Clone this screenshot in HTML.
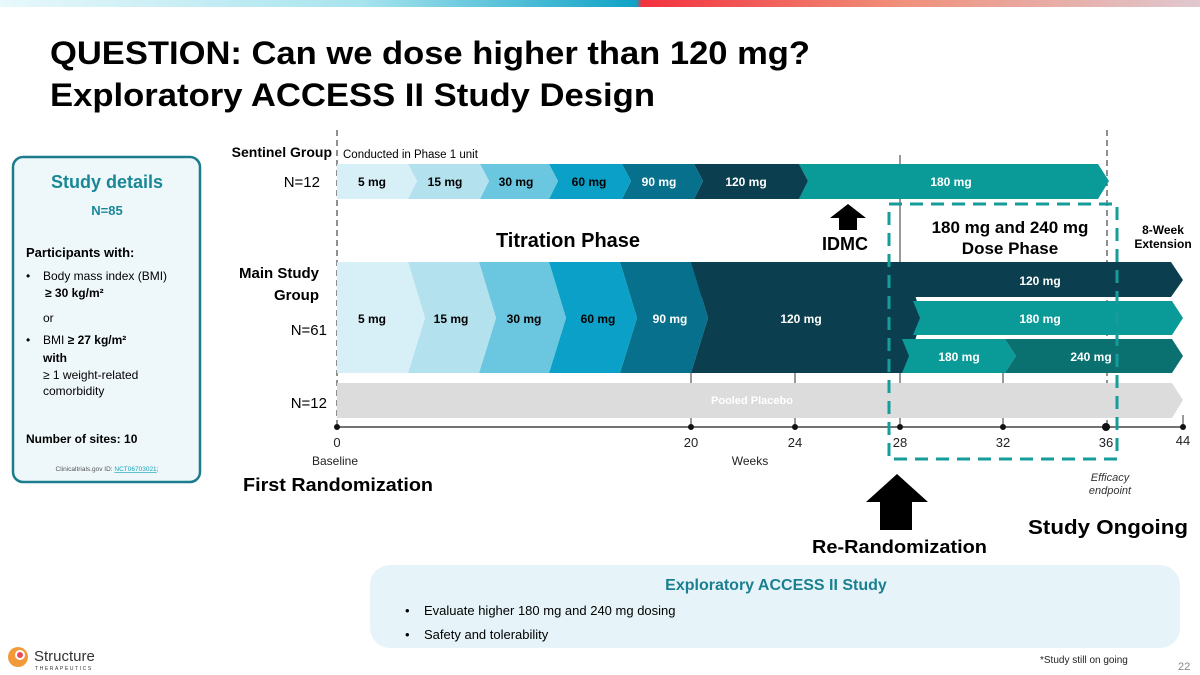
<!DOCTYPE html>
<html><head><meta charset="utf-8"><style>
body{margin:0;background:#fff;}
svg{display:block;font-family:"Liberation Sans",Arial,sans-serif;}
</style></head><body>
<svg width="1200" height="675" viewBox="0 0 1200 675" xmlns="http://www.w3.org/2000/svg">
<defs>
<linearGradient id="tb" x1="0" x2="1" y1="0" y2="0">
<stop offset="0" stop-color="#e8f8fb"/><stop offset="0.3" stop-color="#a8e4ee"/><stop offset="0.53" stop-color="#0fa2c6"/>
<stop offset="0.535" stop-color="#f2323e"/><stop offset="0.75" stop-color="#f0907a"/><stop offset="1" stop-color="#e0c8d0"/>
</linearGradient>
</defs>
<rect x="0" y="0" width="1200" height="7" fill="url(#tb)"/>
<text x="50" y="64" font-size="32" font-weight="bold" textLength="760" lengthAdjust="spacingAndGlyphs">QUESTION: Can we dose higher than 120 mg?</text>
<text x="50" y="106" font-size="32" font-weight="bold" textLength="605" lengthAdjust="spacingAndGlyphs">Exploratory ACCESS II Study Design</text>

<rect x="13" y="157" width="187" height="325" rx="10" fill="#eef8fb" stroke="#1b7c8c" stroke-width="2.5"/>
<text x="107" y="188" font-size="18" font-weight="bold" fill="#1a8797" text-anchor="middle">Study details</text>
<text x="107" y="215" font-size="13" font-weight="bold" fill="#1a8797" text-anchor="middle">N=85</text>
<text x="26" y="257" font-size="13" font-weight="bold">Participants with:</text>
<g font-size="12">
<text x="26" y="280">•</text><text x="43" y="280">Body mass index (BMI)</text>
<text x="45" y="297" font-weight="bold">≥ 30 kg/m²</text>
<text x="43" y="322">or</text>
<text x="26" y="344">•</text><text x="43" y="344">BMI <tspan font-weight="bold">≥ 27 kg/m²</tspan></text>
<text x="43" y="362" font-weight="bold">with</text>
<text x="43" y="379">≥ 1 weight-related</text>
<text x="43" y="395">comorbidity</text>
</g>
<text x="26" y="443" font-size="12" font-weight="bold">Number of sites: 10</text>
<text x="107" y="471" font-size="6.5" fill="#555" text-anchor="middle">Clinicaltrials.gov ID: <tspan fill="#19a3b8" text-decoration="underline">NCT06703021</tspan>;</text>

<g stroke="#222" stroke-width="1" stroke-dasharray="6,4">
<line x1="337" y1="130" x2="337" y2="427"/>
<line x1="1107" y1="130" x2="1107" y2="427"/>
</g>
<g stroke="#333" stroke-width="1">
<line x1="900" y1="155" x2="900" y2="427"/>
<line x1="691" y1="373" x2="691" y2="427"/>
<line x1="795" y1="373" x2="795" y2="427"/>
<line x1="1003" y1="373" x2="1003" y2="427"/>
<line x1="1183" y1="415" x2="1183" y2="427"/>
</g>

<g>
<polygon points="799,164 1098,164 1109,181 1098,199 799,199 808,181" fill="#0a9a98"/>
<polygon points="694,164 799,164 808,181 799,199 694,199 703,181" fill="#0b3f4f"/>
<polygon points="622,164 694,164 703,181 694,199 622,199 631,181" fill="#07708c"/>
<polygon points="549,164 622,164 631,181 622,199 549,199 558,181" fill="#0aa0c8"/>
<polygon points="480,164 549,164 558,181 549,199 480,199 489,181" fill="#6bc6df"/>
<polygon points="408,164 480,164 489,181 480,199 408,199 417,181" fill="#b3e1ee"/>
<polygon points="337,164 408,164 417,181 408,199 337,199" fill="#d7eff7"/>
</g>
<g font-size="12" font-weight="bold" text-anchor="middle">
<text x="372" y="186">5 mg</text><text x="445" y="186">15 mg</text><text x="516" y="186">30 mg</text>
<text x="589" y="186" >60 mg</text><text x="659" y="186" fill="#fff">90 mg</text><text x="746" y="186" fill="#fff">120 mg</text>
<text x="951" y="186" fill="#fff">180 mg</text>
</g>

<polygon points="691,262 1171,262 1183,280 1171,297 691,297" fill="#0b3f4f"/>
<polygon points="691,262 905,262 922,318 905,373 691,373 708,318" fill="#0b3f4f"/>
<polygon points="620,262 691,262 708,318 691,373 620,373 637,318" fill="#07708c"/>
<polygon points="549,262 620,262 637,318 620,373 549,373 566,318" fill="#0aa0c8"/>
<polygon points="479,262 549,262 566,318 549,373 479,373 496,318" fill="#6bc6df"/>
<polygon points="408,262 479,262 496,318 479,373 408,373 425,318" fill="#b3e1ee"/>
<polygon points="337,262 408,262 425,318 408,373 337,373" fill="#d7eff7"/>
<polygon points="913,301 1172,301 1183,318 1172,335 913,335 920,318" fill="#0a9a98"/>
<polygon points="902,339 1005,339 1016,356 1005,373 902,373 909,356" fill="#0a9a98"/>
<polygon points="1005,339 1172,339 1183,356 1172,373 1005,373 1016,356" fill="#0b7070"/>
<g font-size="12" font-weight="bold" text-anchor="middle">
<text x="372" y="323">5 mg</text><text x="451" y="323">15 mg</text><text x="524" y="323">30 mg</text>
<text x="598" y="323">60 mg</text><text x="670" y="323" fill="#fff">90 mg</text><text x="801" y="323" fill="#fff">120 mg</text>
<text x="1040" y="285" fill="#fff">120 mg</text><text x="1040" y="323" fill="#fff">180 mg</text>
<text x="959" y="361" fill="#fff">180 mg</text><text x="1091" y="361" fill="#fff">240 mg</text>
</g>

<polygon points="337,383 1172,383 1183,400 1172,418 337,418" fill="#dcdcdc"/>
<text x="752" y="404" font-size="11" font-weight="bold" fill="#fff" text-anchor="middle">Pooled Placebo</text>

<line x1="337" y1="427" x2="1183" y2="427" stroke="#444" stroke-width="1.5"/>
<g fill="#111">
<circle cx="337" cy="427" r="3"/><circle cx="691" cy="427" r="3"/><circle cx="795" cy="427" r="3"/>
<circle cx="900" cy="427" r="3"/><circle cx="1003" cy="427" r="3"/><circle cx="1106" cy="427" r="4"/><circle cx="1183" cy="427" r="3"/>
</g>
<g font-size="13" text-anchor="middle" fill="#222">
<text x="337" y="447">0</text><text x="691" y="447">20</text><text x="795" y="447">24</text><text x="900" y="447">28</text>
<text x="1003" y="447">32</text><text x="1106" y="447">36</text><text x="1183" y="445">44</text>
<text x="335" y="465" font-size="12">Baseline</text><text x="750" y="465" font-size="12">Weeks</text>
</g>

<rect x="889" y="204" width="228" height="255" fill="none" stroke="#169c9a" stroke-width="3" stroke-dasharray="13,8"/>

<text x="332" y="157" font-size="14" font-weight="bold" text-anchor="end">Sentinel Group</text>
<text x="343" y="158" font-size="11.5">Conducted in Phase 1 unit</text>
<text x="320" y="187" font-size="15" text-anchor="end">N=12</text>
<text x="319" y="278" font-size="15" font-weight="bold" text-anchor="end">Main Study</text>
<text x="319" y="300" font-size="15" font-weight="bold" text-anchor="end">Group</text>
<text x="327" y="335" font-size="15" text-anchor="end">N=61</text>
<text x="327" y="408" font-size="15" text-anchor="end">N=12</text>
<text x="568" y="247" font-size="20" font-weight="bold" text-anchor="middle">Titration Phase</text>
<polygon points="848,204 866,218 857,218 857,230 839,230 839,218 830,218" fill="#000"/>
<text x="845" y="250" font-size="18" font-weight="bold" text-anchor="middle">IDMC</text>
<text x="1010" y="233" font-size="17" font-weight="bold" text-anchor="middle">180 mg and 240 mg</text>
<text x="1010" y="254" font-size="17" font-weight="bold" text-anchor="middle">Dose Phase</text>
<text x="1163" y="234" font-size="12" font-weight="bold" text-anchor="middle">8-Week</text>
<text x="1163" y="248" font-size="12" font-weight="bold" text-anchor="middle">Extension</text>
<text x="1110" y="481" font-size="11" font-style="italic" fill="#333" text-anchor="middle">Efficacy</text>
<text x="1110" y="494" font-size="11" font-style="italic" fill="#333" text-anchor="middle">endpoint</text>
<text x="243" y="491" font-size="18" font-weight="bold" textLength="190" lengthAdjust="spacingAndGlyphs">First Randomization</text>
<polygon points="897,474 928,502 912,502 912,530 880,530 880,502 866,502" fill="#000"/>
<text x="812" y="553" font-size="18" font-weight="bold" textLength="175" lengthAdjust="spacingAndGlyphs">Re-Randomization</text>
<text x="1028" y="534" font-size="20" font-weight="bold" textLength="160" lengthAdjust="spacingAndGlyphs">Study Ongoing</text>

<rect x="370" y="565" width="810" height="83" rx="20" fill="#e6f4f9"/>
<text x="776" y="590" font-size="16" font-weight="bold" fill="#1a8090" text-anchor="middle">Exploratory ACCESS II Study</text>
<text x="405" y="615" font-size="13">•</text><text x="424" y="615" font-size="13">Evaluate higher 180 mg and 240 mg dosing</text>
<text x="405" y="639" font-size="13">•</text><text x="424" y="639" font-size="13">Safety and tolerability</text>

<circle cx="18" cy="657" r="10" fill="#f29a3a"/>
<circle cx="20" cy="655" r="5" fill="#fff"/>
<circle cx="20" cy="655" r="3" fill="#e94a5a"/>
<text x="34" y="661" font-size="15" fill="#333">Structure</text>
<text x="35" y="670" font-size="5" letter-spacing="1.6" fill="#333">THERAPEUTICS</text>
<text x="1040" y="663" font-size="10" fill="#222">*Study still on going</text>
<text x="1178" y="670" font-size="11" fill="#888">22</text>
</svg>
</body></html>
